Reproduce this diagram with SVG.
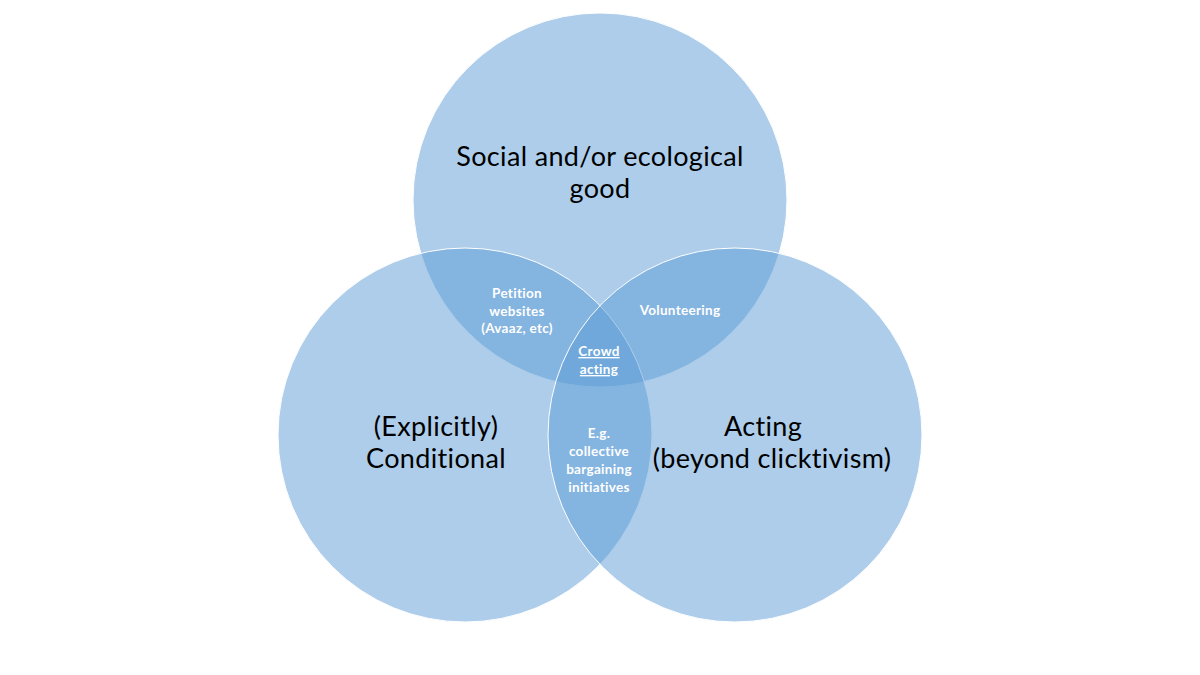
<svg xmlns="http://www.w3.org/2000/svg" width="1200" height="675" viewBox="0 0 1200 675">
<style>
.c{fill:#5B9BD5;fill-opacity:0.5;stroke:#ffffff;stroke-width:1}
text{font-family:Lato,"Open Sans","Liberation Sans",sans-serif;font-variant-ligatures:none;text-anchor:middle}
.big{font-size:27px;letter-spacing:0.35px;fill:#000}
.sm{font-size:13.5px;letter-spacing:0.3px;font-weight:bold;fill:#fff}
</style>
<rect width="1200" height="675" fill="#ffffff"/>
<g id="top-circle"><circle class="c" cx="600" cy="200" r="187"/></g>
<g id="left-circle"><circle class="c" cx="465" cy="435" r="187"/></g>
<g id="right-circle"><circle class="c" cx="735" cy="435" r="187"/></g>
<g id="connectors"></g>
<g id="label-top"><text class="big" x="600" y="166">Social and/or ecological</text><text class="big" x="600" y="198">good</text></g>
<g id="label-left"><text class="big" x="436" y="436">(Explicitly)</text><text class="big" x="436" y="468">Conditional</text></g>
<g id="label-right"><text class="big" x="763" y="436">Acting</text><text class="big" x="772" y="468">(beyond clicktivism)</text></g>
<g id="label-petition"><text class="sm" x="517" y="298">Petition</text><text class="sm" x="517" y="316">websites</text><text class="sm" x="517" y="333">(Avaaz, etc)</text></g>
<g id="label-volunteering"><text class="sm" x="680" y="315">Volunteering</text></g>
<g id="label-crowd"><text class="sm" x="599" y="356" text-decoration="underline">Crowd</text><text class="sm" x="599" y="374" text-decoration="underline">acting</text></g>
<g id="label-eg"><text class="sm" x="599" y="438">E.g.</text><text class="sm" x="599" y="456">collective</text><text class="sm" x="599" y="474">bargaining</text><text class="sm" x="599" y="492">initiatives</text></g>
</svg>
